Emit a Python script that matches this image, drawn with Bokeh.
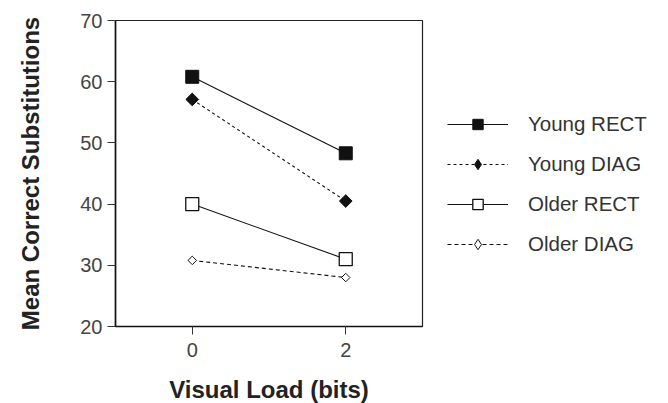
import math
from bokeh.plotting import figure
from bokeh.models import Range1d, Legend, LegendItem, FixedTicker
from bokeh.embed import file_html
from bokeh.resources import INLINE

loads = [0, 2]
young_rect = [60.8, 48.3]
young_diag = [57.1, 40.5]
older_rect = [40.0, 31.0]
older_diag = [30.8, 28.0]
y_ticks = [20, 30, 40, 50, 60, 70]
x_ticks = [0, 2]

p = figure(frame_width=307, frame_height=306, output_backend="svg", toolbar_location=None,
           x_range=Range1d(-1, 3), y_range=Range1d(20, 70),
           min_border_left=115, min_border_top=20, min_border_bottom=70, min_border_right=238)
p.xgrid.visible = False
p.ygrid.visible = False
p.outline_line_color = "#222222"
p.outline_line_width = 1.2
p.background_fill_color = "white"
p.border_fill_color = "white"

for ax in (p.xaxis[0], p.yaxis[0]):
    ax.major_tick_out = 8
    ax.major_tick_in = 0
    ax.minor_tick_out = 0
    ax.minor_tick_in = 0
    ax.axis_line_color = "#111111"
    ax.axis_line_width = 1.6
    ax.major_tick_line_color = "#333333"
    ax.major_label_text_font = "Liberation Sans"
    ax.major_label_text_font_size = "20px"
    ax.major_label_text_color = "#444444"
    ax.axis_label_text_font = "Liberation Sans"
    ax.axis_label_text_font_style = "bold"
    ax.axis_label_text_font_size = "24px"
    ax.axis_label_text_color = "#222222"

p.xaxis.ticker = FixedTicker(ticks=x_ticks)
p.yaxis.ticker = FixedTicker(ticks=y_ticks)
p.xaxis.axis_label = "Visual Load (bits)"
p.yaxis.axis_label = "Mean Correct Substitutions"
p.xaxis.major_label_standoff = 8
p.yaxis.major_label_standoff = 5
p.xaxis.axis_label_standoff = 16
p.yaxis.axis_label_standoff = 33

c = "#111111"
l1 = p.line(loads, young_rect, line_color=c, line_width=1.1)
s1 = p.scatter(loads, young_rect, marker="square", size=13, fill_color=c, line_color=c)
l2 = p.line(loads, young_diag, line_color=c, line_width=1.1, line_dash="3 3")
s2 = p.scatter(loads, young_diag, marker="square", size=9, angle=math.pi / 4, fill_color=c, line_color=c)
l3 = p.line(loads, older_rect, line_color=c, line_width=1.1)
s3 = p.scatter(loads, older_rect, marker="square", size=13, fill_color="white", line_color=c, line_width=1.3)
l4 = p.line(loads, older_diag, line_color=c, line_width=1.1, line_dash="4 3")
s4 = p.scatter(loads, older_diag, marker="square", size=6, angle=math.pi / 4, fill_color="white", line_color=c, line_width=1)

# legend-only diamond glyphs (legend ignores marker angle); hidden in the plot
d2 = p.scatter(loads, young_diag, marker="diamond", size=10, fill_color=c, line_color=c, visible=False)
d4 = p.scatter(loads, older_diag, marker="diamond", size=8, fill_color="white", line_color=c, line_width=1, visible=False)

legend = Legend(items=[
    LegendItem(label="Young RECT", renderers=[l1, s1]),
    LegendItem(label="Young DIAG", renderers=[l2, d2]),
    LegendItem(label="Older RECT", renderers=[l3, s3]),
    LegendItem(label="Older DIAG", renderers=[l4, d4]),
], location=(25, 69))
legend.border_line_color = None
legend.background_fill_alpha = 0
legend.inactive_fill_alpha = 0
legend.glyph_width = 61
legend.glyph_height = 26
legend.label_height = 26
legend.spacing = 14
legend.padding = 0
legend.margin = 0
legend.label_standoff = 20
legend.label_text_font = "Liberation Sans"
legend.label_text_font_size = "20.5px"
legend.label_text_color = "#333333"
p.add_layout(legend, "right")

open("out.html", "w").write(file_html(p, INLINE))
